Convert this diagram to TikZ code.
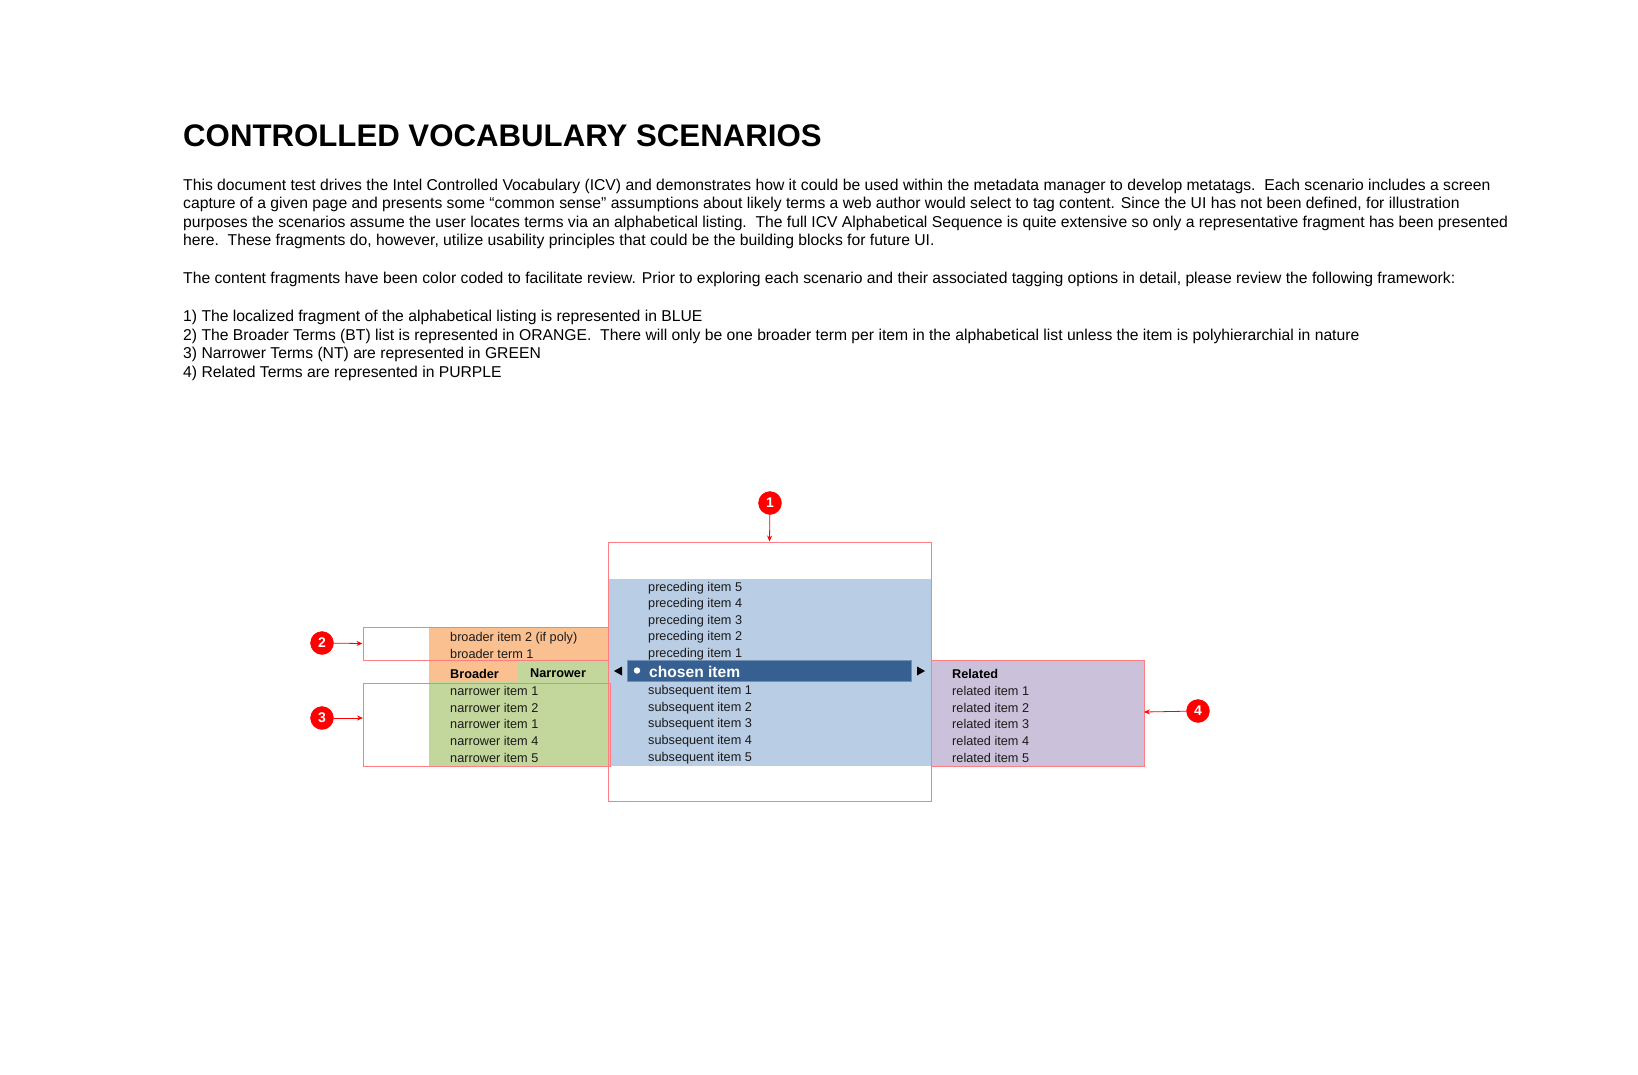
\documentclass[tikz,border=0pt]{standalone}
\usepackage{fontspec}
\setmainfont{Liberation Sans}
\usetikzlibrary{arrows.meta}
\definecolor{orangefill}{HTML}{FAC090}
\definecolor{greenfill}{HTML}{C3D69B}
\definecolor{bluefill}{HTML}{B9CDE5}
\definecolor{purplefill}{HTML}{CCC1DA}
\definecolor{chosenblue}{HTML}{376092}
\definecolor{outlinered}{HTML}{FF7C80}
\definecolor{listtext}{HTML}{1A1A1A}
\tikzset{
  x=1pt, y=-1pt,
  redbox/.style={draw=outlinered, line width=1pt, fill=none, inner sep=0pt, rectangle},
  callout/.style={circle, fill=red, draw=red, minimum size=23pt, inner sep=0pt,
    text=white, font=\fontsize{14}{14}\selectfont\bfseries},
  callarrow/.style={draw=red, line width=0.8pt, -{Stealth[length=6pt,width=5pt]}},
  listitem/.style={anchor=west, inner sep=0pt, text=listtext, font=\fontsize{12.7}{14}\selectfont},
  listhead/.style={anchor=west, inner sep=0pt, text=black, font=\fontsize{12.7}{14}\selectfont\bfseries},
  bodyline/.style={anchor=base west, inner sep=0pt, font=\fontsize{15.7}{18.4}\selectfont},
}
\begin{document}
\begin{tikzpicture}
\useasboundingbox[fill=white] (0,0) rectangle (1638,1074);

% ---- Title and body text
\node[anchor=base west, inner sep=0pt, font=\fontsize{31.2}{32}\selectfont\bfseries] (title) at (183,146) {CONTROLLED VOCABULARY SCENARIOS};

\node[bodyline] (p1a) at (183,190) {This document test drives the Intel Controlled Vocabulary (ICV) and demonstrates how it could be used within the metadata manager to develop metatags.\ \ Each scenario includes a screen};
\node[bodyline] (p1b) at (183,208.5) {capture of a given page and presents some “common sense” assumptions about likely terms a web author would select to tag content. Since the UI has not been defined, for illustration};
\node[bodyline] (p1c) at (183,227) {purposes the scenarios assume the user locates terms via an alphabetical listing.\ \ The full ICV Alphabetical Sequence is quite extensive so only a representative fragment has been presented};
\node[bodyline] (p1d) at (183,245.5) {here.\ \ These fragments do, however, utilize usability principles that could be the building blocks for future UI.};

\node[bodyline] (p2) at (183,283) {The content fragments have been color coded to facilitate review. Prior to exploring each scenario and their associated tagging options in detail, please review the following framework:};

\node[bodyline] (l1) at (183,321.5) {1) The localized fragment of the alphabetical listing is represented in BLUE};
\node[bodyline] (l2) at (183,340) {2) The Broader Terms (BT) list is represented in ORANGE.\ \ There will only be one broader term per item in the alphabetical list unless the item is polyhierarchial in nature};
\node[bodyline] (l3) at (183,358.5) {3) Narrower Terms (NT) are represented in GREEN};
\node[bodyline] (l4) at (183,377) {4) Related Terms are represented in PURPLE};

% ---- Coloured fills
\fill[orangefill] (429,627) rectangle (608,660);
\fill[orangefill] (429,660) rectangle (517,682);
\fill[greenfill] (517,660) rectangle (608,682);
\fill[greenfill] (429,682) rectangle (608,766);
\fill[bluefill] (608,579) rectangle (931,766);
\fill[purplefill] (931,660) rectangle (1144,766);

% ---- Chosen bar
\node[fill=chosenblue, draw=chosenblue!70!white, line width=0.6pt, minimum width=284pt, minimum height=21pt, inner sep=0pt] (chosen) at (769,670.5) {};
\fill[white] (637,670.5) circle (3.2);
\node[anchor=west, inner sep=0pt, text=white, font=\fontsize{15.6}{16}\selectfont\bfseries] (chosentext) at (649,671.5) {chosen item};
\fill[black] (614,671) -- (622,666.5) -- (622,675.5) -- cycle;
\fill[black] (925,671) -- (917,666.5) -- (917,675.5) -- cycle;

% ---- Centre list
\foreach \t/\y [count=\i] in {preceding item 5/588,preceding item 4/604.5,preceding item 3/621,preceding item 2/637.5,preceding item 1/654,
  subsequent item 1/691,subsequent item 2/707.8,subsequent item 3/724.3,subsequent item 4/741,subsequent item 5/757.8}
  \node[listitem] (c\i) at (648,\y) {\t};

% ---- Left list
\node[listitem] (b2) at (450,638) {broader item 2 (if poly)};
\node[listitem] (b1) at (450,654) {broader term 1};
\node[listhead] (hbroader) at (450,673.5) {Broader};
\node[listhead] (hnarrower) at (530,673.5) {Narrower};
\foreach \t/\y [count=\i] in {narrower item 1/691,narrower item 2/707.8,narrower item 1/724.3,narrower item 4/741,narrower item 5/757.8}
  \node[listitem] (n\i) at (450,\y) {\t};

% ---- Right list
\node[listhead] (hrelated) at (952,673.5) {Related};
\foreach \t/\y [count=\i] in {related item 1/691,related item 2/707.8,related item 3/724.3,related item 4/741,related item 5/757.8}
  \node[listitem] (r\i) at (952,\y) {\t};

% ---- Red outline boxes
\node[redbox, minimum width=323pt, minimum height=259pt] (box1) at (769.5,671.5) {};
\node[redbox, minimum width=245pt, minimum height=33pt] (box2) at (485.5,643.5) {};
\node[redbox, minimum width=247pt, minimum height=83pt] (box3) at (486.5,724.5) {};
\node[redbox, minimum width=213pt, minimum height=106pt] (box4) at (1037.5,713) {};

% ---- Callouts
\node[callout] (k1) at (770,503) {1};
\node[callout] (k2) at (322,643) {2};
\node[callout] (k3) at (322,718) {3};
\node[callout] (k4) at (1198,711) {4};

\coordinate (t3) at (363,718);
\coordinate (t4) at (1144,712);
\draw[callarrow] (k1) -- (box1.north);
\draw[callarrow] (k2) -- (box2.west);
\draw[callarrow] (k3) -- (t3);
\draw[callarrow] (k4) -- (t4);
\end{tikzpicture}
\end{document}
